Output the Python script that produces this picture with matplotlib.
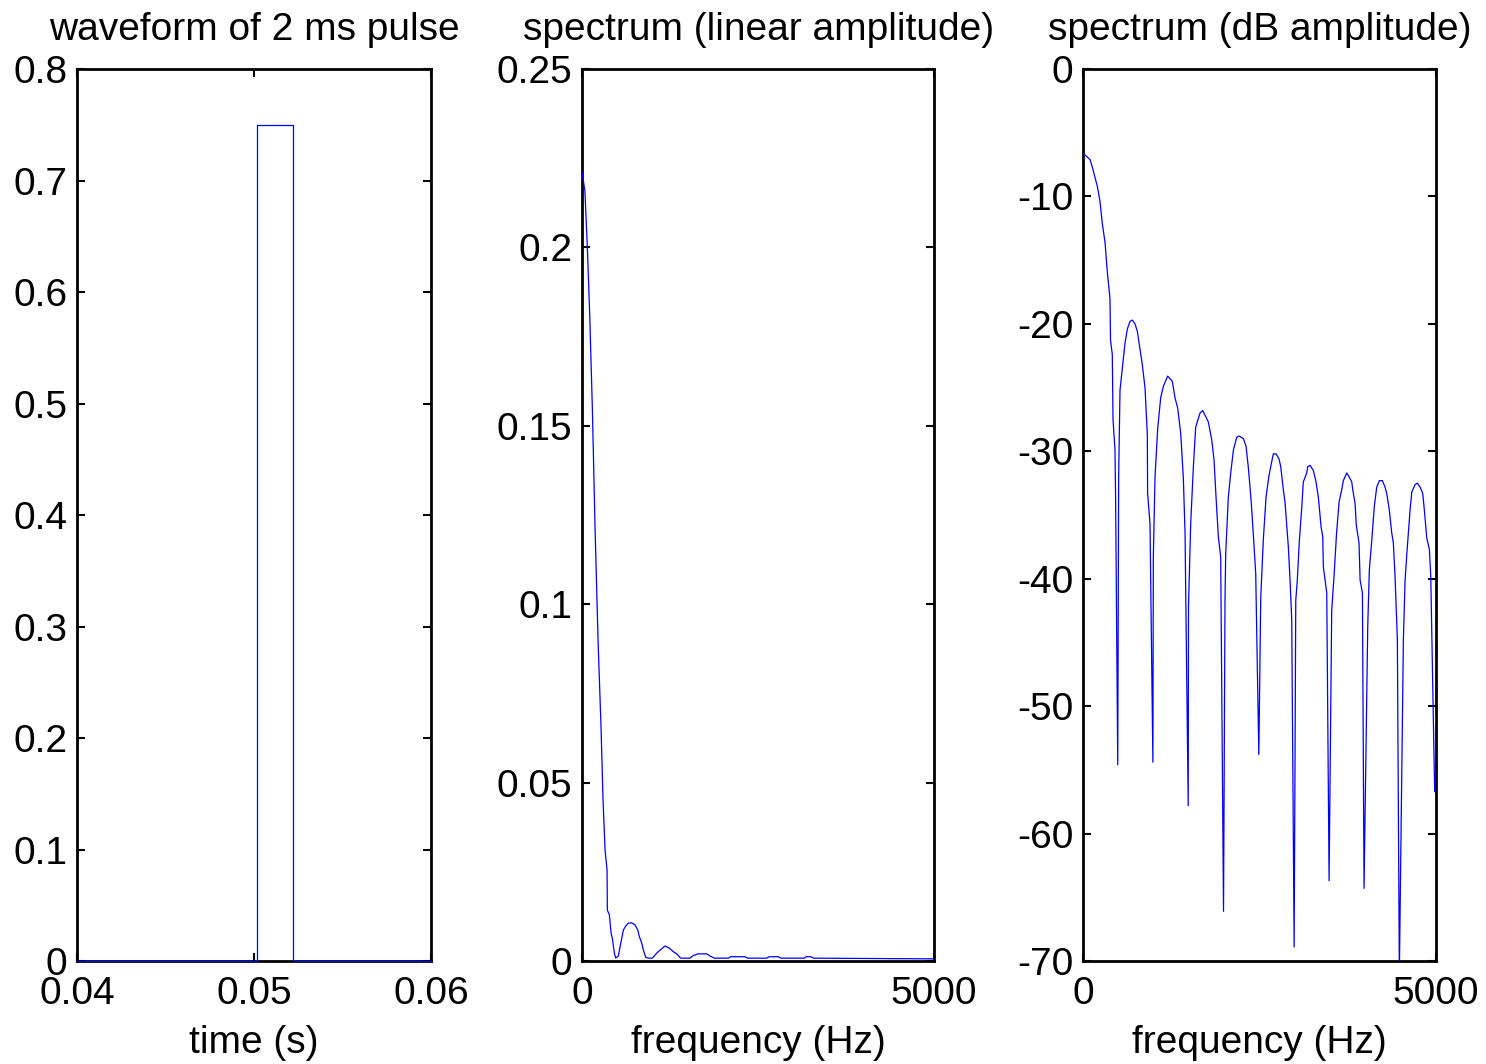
import matplotlib
matplotlib.use('Agg')
import matplotlib.pyplot as plt

plt.rcParams['font.family'] = ['Liberation Sans', 'DejaVu Sans']
plt.rcParams['axes.unicode_minus'] = False

# pulse waveform (s, amplitude)
t_pulse = [0.04, 0.0502, 0.0502, 0.0522, 0.0522, 0.06]
a_pulse = [0, 0, 0.75, 0.75, 0, 0]

# spectrum, linear amplitude
f_lin = [0, 40, 75, 109, 146, 185, 227, 270, 298, 327, 355, 359, 388, 412, 430, 459, 478,
         515, 540, 564, 587, 620, 657, 706, 753, 791, 814, 848, 870, 905, 943,
         998, 1060, 1122, 1179, 1240, 1297, 1345, 1402,
         1534, 1567, 1643, 1771, 1818, 1879,
         2078, 2111, 2315, 2347, 2623, 2655, 2788, 2821,
         3157, 3181, 3252, 3285, 5000]
a_lin = [0.221, 0.216, 0.200, 0.181, 0.155, 0.121, 0.090, 0.065, 0.045, 0.031, 0.0255, 0.0143, 0.0129, 0.0078, 0.0064, 0.0022, 0.0008,
         0.0014, 0.0040, 0.0064, 0.0087, 0.0098, 0.0106, 0.0107, 0.0101, 0.0087, 0.0068, 0.0050, 0.0031, 0.0010, 0.0008,
         0.0008, 0.0022, 0.0033, 0.0042, 0.0036, 0.0026, 0.0020, 0.0008,
         0.0008, 0.0014, 0.0020, 0.0020, 0.0014, 0.0008,
         0.0008, 0.0012, 0.0012, 0.0008, 0.0008, 0.0012, 0.0012, 0.0008,
         0.0008, 0.0012, 0.0012, 0.0008, 0.0006]

# spectrum, dB amplitude (main lobe + 9 side lobes)
f_db = [0, 99, 132, 170, 203, 241, 273, 312, 344, 382, 390, 415, 425, 453, 462, 492,
        505, 524, 557, 595, 628, 666, 699, 737, 770, 808, 840, 878, 911, 915, 949, 990,
        996, 1020, 1058, 1100, 1138, 1199, 1265, 1303, 1341, 1384, 1421, 1445, 1490,
        1494, 1525, 1563, 1596, 1657, 1695, 1775, 1823, 1856, 1884, 1917, 1950, 1990,
        2011, 2021, 2058, 2092, 2130, 2177, 2210, 2271, 2309, 2342, 2380, 2412, 2446, 2490,
        2517, 2554, 2592, 2634, 2673, 2696, 2734, 2776, 2800, 2837, 2861, 2908, 2932, 2956, 2990,
        3013, 3035, 3064, 3097, 3120, 3168, 3183, 3215, 3262, 3300, 3333, 3371, 3395, 3404, 3452, 3485,
        3522, 3555, 3590, 3626, 3664, 3687, 3735, 3768, 3806, 3820, 3853, 3870, 3909, 3924, 3957, 3980,
        4032, 4055, 4089, 4126, 4160, 4197, 4239, 4277, 4301, 4338, 4372, 4395, 4419, 4452, 4480,
        4537, 4561, 4593, 4632, 4656, 4703, 4735, 4773, 4811, 4834, 4868, 4905, 4925, 4980]
db = [-6.6, -7.1, -7.7, -8.5, -9.2, -10.4, -12.1, -13.6, -15.9, -18.0, -21.3, -22.4, -27.5, -29.9, -33.8, -54.6,
      -32.0, -25.2, -23.5, -21.5, -20.4, -19.8, -19.7, -20.0, -20.6, -22.0, -23.2, -25.0, -28.7, -33.3, -35.7, -54.4,
      -38.3, -32.0, -28.2, -25.8, -24.9, -24.1, -24.5, -25.8, -26.6, -28.6, -32.1, -36.4, -57.8,
      -42.2, -35.7, -31.2, -28.1, -27.0, -26.8, -27.7, -29.1, -30.7, -33.6, -36.7, -38.3, -66.1,
      -41.7, -38.0, -33.6, -31.7, -29.9, -28.9, -28.8, -29.0, -29.6, -31.3, -33.8, -36.5, -39.6, -53.8,
      -41.5, -36.9, -33.6, -31.9, -30.8, -30.2, -30.2, -30.6, -31.2, -33.0, -34.0, -37.5, -40.1, -43.2, -68.9,
      -41.7, -40.1, -37.0, -34.5, -32.4, -31.7, -31.2, -31.1, -31.5, -32.4, -33.6, -35.9, -36.7, -39.1, -41.1, -63.7,
      -42.5, -39.8, -36.5, -34.0, -33.0, -32.3, -31.7, -32.0, -32.4, -33.0, -34.1, -35.8, -37.2, -40.1, -41.1, -64.3,
      -43.8, -39.3, -37.0, -34.3, -32.8, -32.3, -32.3, -32.8, -33.3, -34.6, -36.4, -37.2, -39.8, -44.8, -71.0,
      -44.8, -40.1, -37.5, -34.6, -33.2, -32.6, -32.5, -32.8, -33.3, -34.6, -36.8, -37.7, -39.8, -56.7]

fs = 28

fig = plt.figure(figsize=(14.86, 10.64), dpi=100)
ax1 = fig.add_axes([0.0518, 0.0968, 0.2382, 0.8383])
ax2 = fig.add_axes([0.3917, 0.0968, 0.2369, 0.8383])
ax3 = fig.add_axes([0.7288, 0.0968, 0.2376, 0.8383])

ax1.plot(t_pulse, a_pulse, color='#0000ff', lw=0.9, zorder=3, clip_on=False)
ax1.set_xlim(0.04, 0.06)
ax1.set_ylim(0, 0.8)
ax1.set_xticks([0.04, 0.05, 0.06])
ax1.set_xticklabels(['0.04', '0.05', '0.06'])
ax1.set_yticks([0, 0.1, 0.2, 0.3, 0.4, 0.5, 0.6, 0.7, 0.8])
ax1.set_yticklabels(['0', '0.1', '0.2', '0.3', '0.4', '0.5', '0.6', '0.7', '0.8'])
ax1.set_title('waveform of 2 ms pulse', fontsize=fs, pad=21)
ax1.set_xlabel('time (s)', fontsize=fs, labelpad=9.5)

ax2.plot(f_lin, a_lin, color='#0000ff', lw=0.9, zorder=3)
ax2.set_xlim(0, 5000)
ax2.set_ylim(0, 0.25)
ax2.set_xticks([0, 5000])
ax2.set_yticks([0, 0.05, 0.1, 0.15, 0.2, 0.25])
ax2.set_yticklabels(['0', '0.05', '0.1', '0.15', '0.2', '0.25'])
ax2.set_title('spectrum (linear amplitude)', fontsize=fs, pad=21)
ax2.set_xlabel('frequency (Hz)', fontsize=fs, labelpad=9.5)

ax3.plot(f_db, db, color='#0000ff', lw=0.9, zorder=3)
ax3.set_xlim(0, 5000)
ax3.set_ylim(-70, 0)
ax3.set_xticks([0, 5000])
ax3.set_yticks([-70, -60, -50, -40, -30, -20, -10, 0])
ax3.set_title('spectrum (dB amplitude)', fontsize=fs, pad=21)
ax3.set_xlabel('frequency (Hz)', fontsize=fs, labelpad=9.5)

for ax in [ax1, ax2, ax3]:
    for s in ax.spines.values():
        s.set_linewidth(2)
    ax.tick_params(direction='in', top=True, right=True, length=6, width=1.5, labelsize=fs)
    ax.tick_params(axis='x', pad=11)
    ax.tick_params(axis='y', pad=7)

fig.savefig('out.png', dpi=100)
